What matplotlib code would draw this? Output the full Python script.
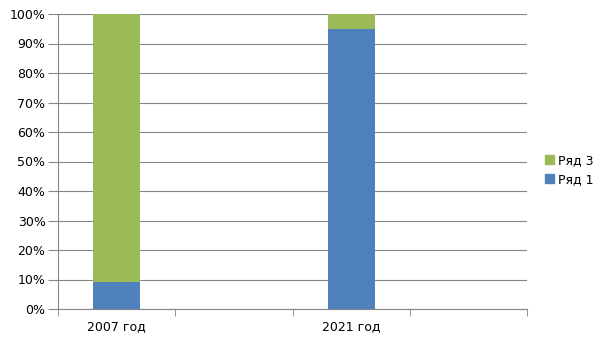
import matplotlib.pyplot as plt
from matplotlib.ticker import PercentFormatter
from matplotlib.patches import Patch

categories = ["2007 год", "", "2021 год", ""]
row1 = [9, 0, 95, 0]
row3 = [91, 0, 5, 0]

blue = "#4f81bd"
green = "#9bbb59"

fig = plt.figure(figsize=(6.05, 3.4), dpi=100)
ax = fig.add_axes([58 / 605, 31 / 340, 469 / 605, 295 / 340])

x = list(range(len(categories)))
ax.bar(x, row1, width=0.4, color=blue, zorder=3)
ax.bar(x, row3, width=0.4, bottom=row1, color=green, zorder=3)

ax.set_xlim(-0.5, len(categories) - 0.5)
ax.set_ylim(0, 100)
ax.set_yticks(range(0, 101, 10))
ax.yaxis.set_major_formatter(PercentFormatter(decimals=0))
ax.set_xticks(x)
ax.set_xticklabels(categories, fontsize=9)
ax.set_xticks([i - 0.5 for i in range(len(categories) + 1)], minor=True)
ax.tick_params(axis="x", which="major", length=0, pad=8)
ax.tick_params(axis="x", which="minor", length=5, color="#868686", direction="out")
ax.tick_params(axis="y", length=7, color="#868686", labelsize=9, pad=2)

ax.grid(axis="y", color="#868686", linewidth=0.8, zorder=0)
for s in ["top", "right"]:
    ax.spines[s].set_visible(False)
for s in ["left", "bottom"]:
    ax.spines[s].set_color("#868686")
    ax.spines[s].set_linewidth(0.8)

handles = [Patch(color=green, label="Ряд 3"), Patch(color=blue, label="Ряд 1")]
fig.legend(handles=handles, loc="center left", bbox_to_anchor=(534 / 605, 170 / 340),
           frameon=False, fontsize=9, handlelength=0.7, handleheight=0.7,
           handletextpad=0.3, labelspacing=0.45)

fig.savefig("out.png", dpi=100)
